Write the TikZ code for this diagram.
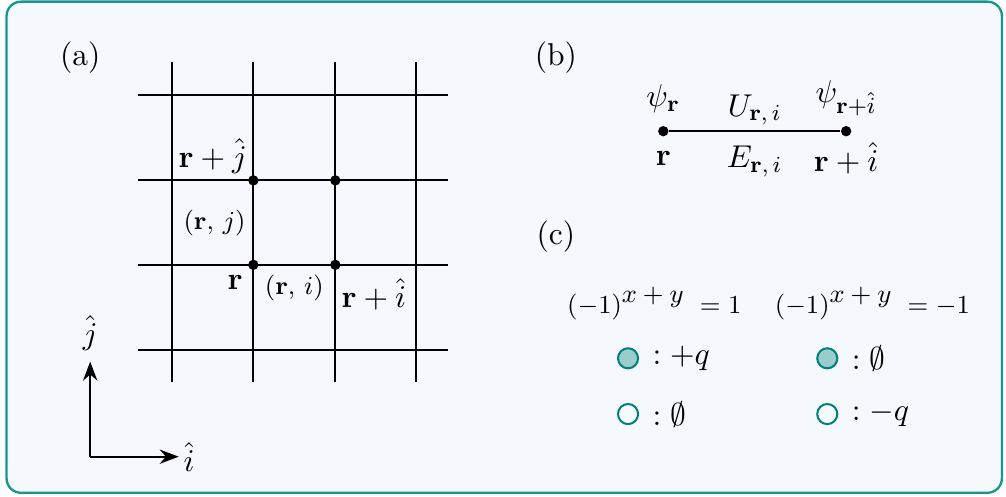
\documentclass[11pt,tikz,border=0pt]{standalone}
\usepackage{amsmath}
\usepackage{xcolor}
\usepackage{tikz}
\usetikzlibrary{arrows.meta, positioning, calc}
\definecolor{fundo}{RGB}{245,248,252}
\definecolor{moldura}{RGB}{22,150,140}
\definecolor{sitio}{RGB}{0,128,124}

\begin{document}
\begin{tikzpicture}[>=Stealth,
        rede/.style={line width=0.7pt},
        ponto/.style={circle, fill=black, inner sep=0pt, minimum size=3.6pt},
        carga/.style={circle, draw=sitio, line width=0.7pt, inner sep=0pt,
                      minimum size=2.45mm},
        cheio/.style={carga, fill=sitio!40},
        vazio/.style={carga, fill=sitio!4},
        painel/.style={font=\normalsize}]

      % fundo e moldura
      \useasboundingbox (0,0) rectangle (12.27,6.05);
      \draw[moldura, fill=fundo, line width=0.8pt, rounded corners=5pt]
            (0.08,0.04) rectangle (12.22,6.03);

      % (a) rede quadrada
      \node[painel] (pa) at (0.98,5.35) {(a)};
      \foreach \x in {2.10,3.09,4.09,5.07}
        \draw[rede] (\x,1.39) -- (\x,5.29);
      \foreach \y in {1.78,2.82,3.85,4.89}
        \draw[rede] (1.68,\y) -- (5.46,\y);

      \node[ponto] (r)   at (3.09,2.82) {};
      \node[ponto] (ri)  at (4.09,2.82) {};
      \node[ponto] (rj)  at (3.09,3.85) {};
      \node[ponto] (rij) at (4.09,3.85) {};

      \node[anchor=south east, inner sep=2pt] (lrj) at (rj) {$\mathbf{r}+\hat{j}$};
      \node[anchor=north east, inner sep=3.5pt] (lr) at (r) {$\mathbf{r}$};
      \node[anchor=north west, inner sep=0pt, xshift=2pt, yshift=-4.5pt] (lri) at (ri)
            {$\mathbf{r}+\hat{i}$};
      \node[left, inner sep=2.5pt, font=\footnotesize] (ej) at ($(r)!0.5!(rj)$)
            {$(\mathbf{r},\,j)$};
      \node[below, inner sep=3.5pt, font=\footnotesize] (ei) at ($(r)!0.5!(ri)$)
            {$(\mathbf{r},\,i)$};

      % eixos
      \coordinate (o)  at (1.10,0.48);
      \coordinate (ex) at (2.18,0.48);
      \coordinate (ey) at (1.10,1.64);
      \draw[->, line width=0.8pt] (o) -- (ex);
      \draw[->, line width=0.8pt] (o) -- (ey);
      \node[right, inner sep=1.5pt] (li) at (ex) {$\hat{i}$};
      \node[above, inner sep=3.5pt] (lj) at (ey) {$\hat{j}$};

      % (b) ligacao
      \node[painel] (pb) at (6.78,5.35) {(b)};
      \node[ponto] (sa) at (8.09,4.45) {};
      \node[ponto] (sb) at (10.32,4.45) {};
      \draw[line width=0.8pt] (sa) -- (sb);
      \node (psia) at ($(sa)+(0,0.40)$) {$\psi_{\mathbf{r}}$};
      \node (psib) at ($(sb)+(0,0.40)$) {$\psi_{\mathbf{r}+\hat{i}}$};
      \node (ua)   at ($(sa)+(0,-0.33)$) {$\mathbf{r}$};
      \node (ub)   at ($(sb)+(0,-0.33)$) {$\mathbf{r}+\hat{i}$};
      \node (U) at ($(sa)!0.5!(sb)+(0,0.26)$) {$U_{\mathbf{r},\,i}$};
      \node (E) at ($(sa)!0.5!(sb)+(0,-0.37)$) {$E_{\mathbf{r},\,i}$};

      % (c) cargas
      \node[painel] (pc) at (6.78,3.16) {(c)};
      \node[font=\footnotesize] (par) at (7.98,2.35)
            {$(-1)^{\textstyle x+y}\; = 1$};
      \node[font=\footnotesize] (impar) at (10.64,2.35)
            {$(-1)^{\textstyle x+y}\; = -1$};

      \node[cheio] (c1) at (7.66,1.68) {};
      \node[vazio] (c2) at (7.66,1.00) {};
      \node[cheio] (c3) at (10.09,1.68) {};
      \node[vazio] (c4) at (10.09,1.00) {};
      \node[right=0.03cm of c1] (t1) {$:+q$};
      \node[right=0.03cm of c2] (t2) {$:\emptyset$};
      \node[right=0.03cm of c3] (t3) {$:\emptyset$};
      \node[right=0.03cm of c4] (t4) {$:-q$};
    \end{tikzpicture}
\end{document}
